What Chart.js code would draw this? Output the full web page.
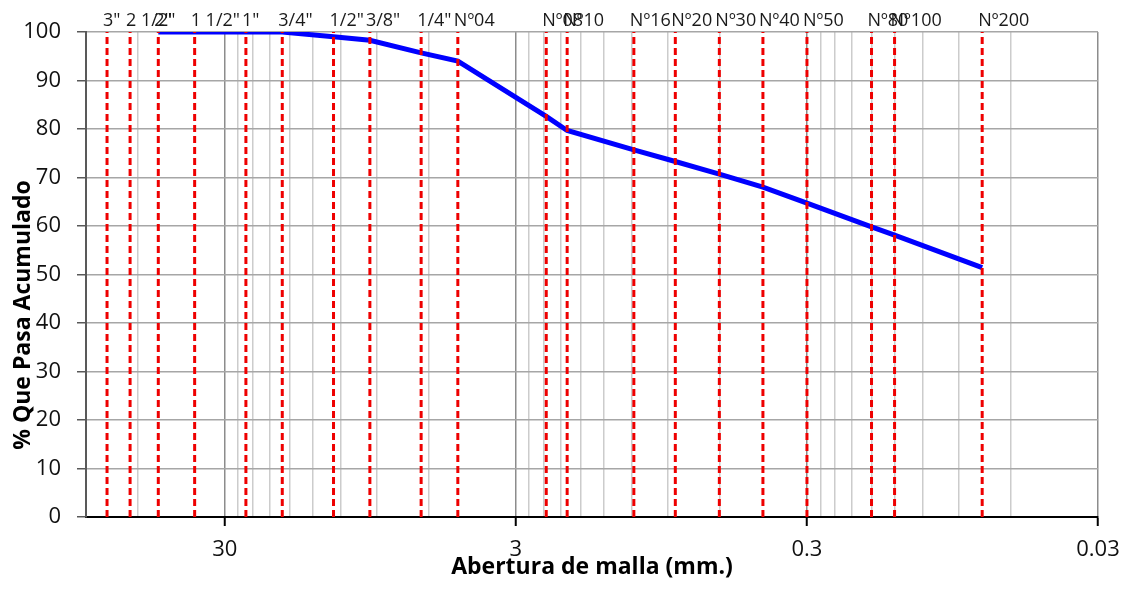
<!DOCTYPE html>
<html>
<head>
<meta charset="utf-8">
<script src="https://cdn.jsdelivr.net/npm/chart.js@4"></script>
<style>
  body { margin: 0; background: #fff; }
  #wrap { width: 1126px; height: 594px; }
</style>
</head>
<body>
<div id="wrap"><canvas id="granChart" width="1126" height="594"></canvas></div>
<script>
// tamices y abertura (mm)
const sieveLabels = ['3"', '2 1/2"', '2"', '1 1/2"', '1"', '3/4"', '1/2"', '3/8"', '1/4"', "Nº04",
  "Nº08", "Nº10", "Nº16", "Nº20", "Nº30", "Nº40", "Nº50", "Nº80", "Nº100", "Nº200"];
const sieveSizes = [76.2, 63.5, 50.8, 38.1, 25.4, 19.05, 12.7, 9.525, 6.35, 4.75,
  2.36, 2.0, 1.18, 0.85, 0.6, 0.425, 0.3, 0.18, 0.15, 0.075];
// % que pasa acumulado (null = sin dato)
const percentPassing = [null, null, 100, 100, 100, 100, 99.0, 98.3, 95.7, 94.0,
  82.6, 79.7, 75.7, 73.3, 70.7, 68.0, 64.7, 59.8, 58.1, 51.4];

// ticks eje x
const xMajorTicks = [30, 3, 0.3, 0.03];
const xMinorTicks = [60, 27, 24, 21, 18, 15, 12, 9, 6, 2.7, 2.4, 2.1, 1.8, 1.5, 1.2, 0.9, 0.6,
  0.27, 0.24, 0.21, 0.18, 0.15, 0.12, 0.09, 0.06];
const xMin = 0.03, xMax = 90;
const yTicks = [0, 10, 20, 30, 40, 50, 60, 70, 80, 90, 100];

const yTitle = "% Que Pasa Acumulado";
const FONT = "'Open Sans', 'Liberation Sans', sans-serif";

/* ===== DATASETS ===== */
const curve = [];
sieveSizes.forEach((s, i) => {
  if (percentPassing[i] != null) curve.push({ x: s, y: percentPassing[i] });
});

const sieveLines = sieveSizes.map((s) => ({
  data: [{ x: s, y: 0 }, { x: s, y: 100 }],
  borderColor: "#ee0000",
  borderWidth: 3,
  borderDash: [7, 4],
  pointRadius: 0,
  showLine: true,
  order: 0,
}));

const isMajor = (v) => xMajorTicks.some((m) => Math.abs(m - v) < 1e-9);

/* ===== ETIQUETAS DE TAMICES + TITULO Y ===== */
const sieveLabelPlugin = {
  id: "sieveLabels",
  afterDatasetsDraw(chart) {
    const ctx = chart.ctx;
    const xs = chart.scales.x;
    ctx.save();
    ctx.font = "18px " + FONT;
    ctx.fillStyle = "#1a1a1a";
    ctx.textAlign = "left";
    ctx.textBaseline = "middle";
    sieveSizes.forEach((s, i) => {
      ctx.fillText(sieveLabels[i], xs.getPixelForValue(s) - 4, 21);
    });
    ctx.restore();
  },
  afterDraw(chart) {
    const ctx = chart.ctx;
    ctx.save();
    ctx.translate(23, 315);
    ctx.rotate(-Math.PI / 2);
    ctx.font = "bold 23px " + FONT;
    ctx.fillStyle = "#000";
    ctx.textAlign = "center";
    ctx.textBaseline = "middle";
    ctx.fillText(yTitle, 0, 0);
    ctx.restore();
  },
};

const chart = new Chart(document.getElementById("granChart").getContext("2d"), {
  type: "scatter",
  data: {
    datasets: [
      {
        data: curve,
        borderColor: "#0000ff",
        borderWidth: 5,
        pointRadius: 0,
        showLine: true,
        order: 10,
      },
      ...sieveLines,
    ],
  },
  options: {
    responsive: false,
    animation: false,
    layout: { padding: { top: 32, right: 28, left: 0, bottom: 0 } },
    plugins: { legend: { display: false }, tooltip: { enabled: false } },
    scales: {
      x: {
        type: "logarithmic",
        reverse: true,
        min: xMin,
        max: xMax,
        afterBuildTicks(scale) {
          scale.ticks = [...xMajorTicks, ...xMinorTicks]
            .sort((a, b) => a - b)
            .map((v) => ({ value: v }));
        },
        afterFit(scale) {
          scale.height = 77;
        },
        ticks: {
          autoSkip: false,
          maxRotation: 0,
          padding: 11,
          color: "#111",
          font: { family: FONT, size: 22 },
          callback: (v) => (isMajor(v) ? String(v) : ""),
        },
        grid: {
          color: (c) => (c.tick && isMajor(c.tick.value) ? "#8c8c8c" : "#cccccc"),
          lineWidth: 1.5,
          tickLength: 9,
          tickColor: (c) => (c.tick && isMajor(c.tick.value) ? "#000" : "rgba(0,0,0,0)"),
          tickWidth: 2,
        },
        border: { color: "#000", width: 2 },
        title: {
          display: true,
          text: "Abertura de malla (mm.)",
          color: "#000",
          font: { family: FONT, size: 23, weight: "bold" },
          padding: { top: 0, bottom: 13 },
        },
      },
      y: {
        min: 0,
        max: 100,
        afterBuildTicks(scale) {
          scale.ticks = yTicks.map((v) => ({ value: v }));
        },
        afterFit(scale) {
          scale.width = 86;
        },
        ticks: {
          padding: 16,
          color: "#111",
          font: { family: FONT, size: 22 },
        },
        grid: {
          color: "#a6a6a6",
          lineWidth: 1.5,
          tickLength: 9,
          tickColor: "#595959",
          tickWidth: 1.5,
        },
        border: { color: "#595959", width: 2 },
      },
    },
  },
  plugins: [sieveLabelPlugin],
});
</script>
</body>
</html>
